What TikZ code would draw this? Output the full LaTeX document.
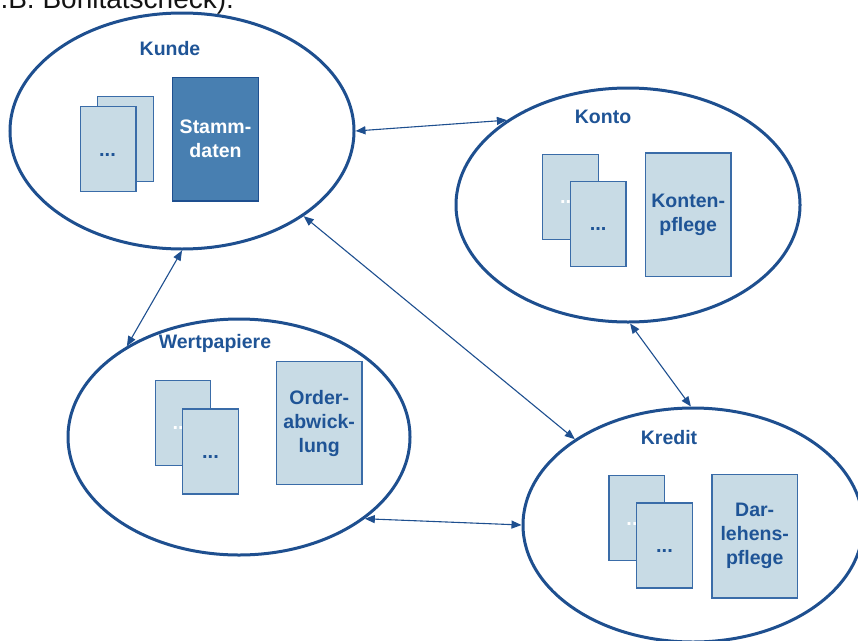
\documentclass[tikz,border=0pt]{standalone}
\usepackage{fontspec}
\setmainfont{Liberation Sans}
\usetikzlibrary{shapes.geometric,arrows.meta}
\definecolor{ringblue}{RGB}{30,79,143}
\definecolor{txtblue}{RGB}{31,84,150}
\definecolor{boxfill}{RGB}{200,219,229}
\definecolor{boxline}{RGB}{58,108,168}
\definecolor{darkfill}{RGB}{72,127,177}
\definecolor{toptext}{RGB}{20,20,20}
\tikzset{
  ring/.style={ellipse, draw=ringblue, line width=3pt, inner sep=0pt, minimum width=344pt, minimum height=236pt},
  title/.style={text=txtblue, font=\fontsize{19.5}{24}\selectfont\bfseries, inner sep=0pt},
  doc/.style={rectangle, draw=boxline, fill=boxfill, line width=1.4pt, minimum width=55.5pt, minimum height=85pt, inner sep=0pt},
  bigbox/.style={rectangle, draw=boxline, fill=boxfill, line width=1.4pt, minimum width=85.5pt, minimum height=123.5pt, inner sep=0pt, align=center, text=txtblue, font=\fontsize{19.5}{24}\selectfont\bfseries},
  darkbox/.style={bigbox, fill=darkfill, draw=ringblue, text=white},
  dots/.style={text=txtblue, font=\fontsize{20}{24}\selectfont\bfseries, inner sep=0pt},
  wdots/.style={dots, text=white},
  conn/.style={draw=ringblue, line width=1.1pt, {Triangle[length=10pt,width=8pt]}-{Triangle[length=10pt,width=8pt]}}
}
\begin{document}
\begin{tikzpicture}[x=1pt,y=-1pt]
\useasboundingbox (0,0) rectangle (858,640);
\clip (0,0) rectangle (858,640);
% cut-off line of text at the top
\node[anchor=base west, inner sep=0pt, text=toptext, font=\fontsize{28}{32}\selectfont] (top) at (-23,8) {(z.B. Bonitätscheck).};
% rings
\node[ring] (kunde) at (182,131) {};
\node[ring, minimum height=234pt] (konto) at (628,205) {};
\node[ring, minimum width=342pt] (wert) at (239,437) {};
\node[ring, minimum width=340pt, minimum height=234pt] (kredit) at (693,525) {};
% titles
\node[title] (tkunde) at (170,49) {Kunde};
\node[title] (tkonto) at (603,117) {Konto};
\node[title] (twert) at (215,343) {Wertpapiere};
\node[title] (tkredit) at (669,438) {Kredit};
% Kunde contents
\node[doc] (kb) at (125.5,139) {};
\node[wdots] (kbd) at (125.5,145) {...};
\node[doc] (kf) at (108.3,149.2) {};
\node[dots] (kfd) at (107.5,155.5) {...};
\node[darkbox] (stamm) at (215.5,139.2) {Stamm-\\daten};
% Konto contents
\node[doc] (ob) at (570.5,196.7) {};
\node[wdots] (obd) at (568.5,202) {...};
\node[doc] (of) at (598.2,224.2) {};
\node[dots] (ofd) at (598.2,229.5) {...};
\node[bigbox] (kpf) at (688.2,214.7) {Konten-\\pflege};
% Wertpapiere contents
\node[doc] (wb) at (183,423) {};
\node[wdots] (wbd) at (181,428.5) {...};
\node[doc] (wf) at (210.5,451.3) {};
\node[dots] (wfd) at (210.5,457) {...};
\node[bigbox] (order) at (319.2,423) {Order-\\abwick-\\lung};
% Kredit contents
\node[doc] (rb) at (636.8,518.2) {};
\node[wdots] (rbd) at (634.8,523.5) {...};
\node[doc] (rf) at (664.5,545.5) {};
\node[dots] (rfd) at (664.5,551) {...};
\node[bigbox] (darl) at (754.7,536.3) {Dar-\\lehens-\\pflege};
% connectors
\draw[conn] (kunde.0) -- (konto.145.7);
\draw[conn] (kunde.270) -- (wert.141.9);
\draw[conn] (kunde.-35.3) -- (kredit.144.7);
\draw[conn] (konto.-89) -- (kredit.91.4);
\draw[conn] (wert.-33.2) -- (kredit.180.7);
\end{tikzpicture}
\end{document}
